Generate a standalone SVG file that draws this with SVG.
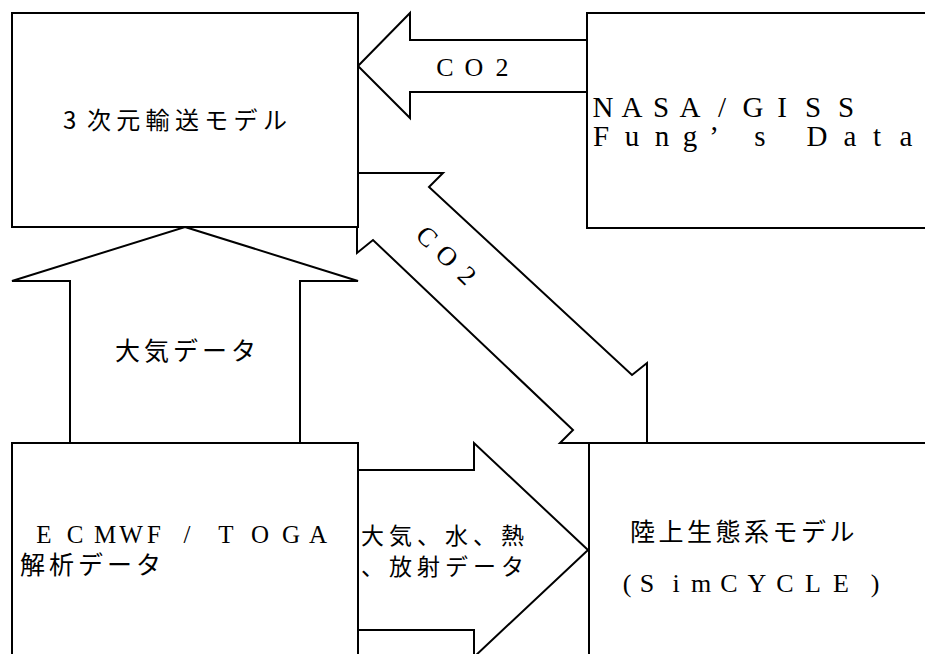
<svg xmlns="http://www.w3.org/2000/svg" width="925" height="654" viewBox="0 0 925 654">
<style>
.box{fill:#fff;stroke:#000;stroke-width:2}
.arr{fill:#fff;stroke:#000;stroke-width:2;stroke-linejoin:miter}
.jp{font-family:"Noto Sans CJK JP","Noto Sans CJK SC",sans-serif;fill:#000}
.lat{font-family:"Liberation Serif","DejaVu Serif",serif;fill:#000;text-anchor:middle}
</style>
<rect width="925" height="654" fill="#fff"/>
<g id="connectors">
  <g id="co2-top">
    <polygon class="arr" points="358,66 410,13 410,40 587,40 587,92 410,92 410,118"/>
    <text class="lat" font-size="26" x="445 474 502" y="76">CO2</text>
  </g>
  <g id="co2-diag">
    <polygon class="arr" points="357,173 443,173 429,187 632,375 647,363 647,443 560,443 573,430 373,240 357,253"/>
    <g transform="translate(447,256) rotate(44)">
      <text class="lat" font-size="27" x="-28 0 28" y="9">CO2</text>
    </g>
  </g>
  <g id="atm-up">
    <polygon class="arr" points="185,227 358,281 300,281 300,443 70,443 70,281 12,281"/>
    <text class="jp" font-size="25" x="115 144 173 202 231" y="360">大気データ</text>
  </g>
  <g id="atm-right">
    <polygon class="arr" points="358,470 474,470 474,443 588,550 474,657 474,630 358,630"/>
    <text class="jp" font-size="23" x="361 389 417 445 473 501" y="544">大気、水、熱</text>
    <text class="jp" font-size="23" x="361 389 417 445 473 501" y="575">、放射データ</text>
  </g>
</g>
<g id="transport-model">
  <rect class="box" x="12" y="13" width="346" height="214"/>
  <text class="jp" font-size="24" x="63 87 116.3 145.6 175 204.3 233.6 263" y="129">3次元輸送モデル</text>
</g>
<g id="nasa-giss">
  <rect class="box" x="587" y="13" width="350" height="215"/>
  <text class="lat" font-size="29" x="603 632 661 690 722 753 782 813 846" y="117">NASA/GISS</text>
  <text class="lat" font-size="29" x="601 632 662 690 714 760 788 817 850 877 906" y="146">Fung’s Data</text>
</g>
<g id="ecmwf-toga">
  <rect class="box" x="12" y="443" width="346" height="220"/>
  <text class="lat" font-size="25" x="44 75 105 131 154 187 226 260 291 318" y="543">ECMWF/TOGA</text>
  <text class="jp" font-size="25" x="20 49 78 107 136" y="574">解析データ</text>
</g>
<g id="simcycle">
  <rect class="box" x="589" y="443" width="350" height="220"/>
  <text class="jp" font-size="25" x="630 658.5 687 715.5 744 772.5 801 829.5" y="541">陸上生態系モデル</text>
  <text class="lat" font-size="26" x="627 647 676 701 729 757 785 813 841 875" y="592">(SimCYCLE)</text>
</g>
</svg>
